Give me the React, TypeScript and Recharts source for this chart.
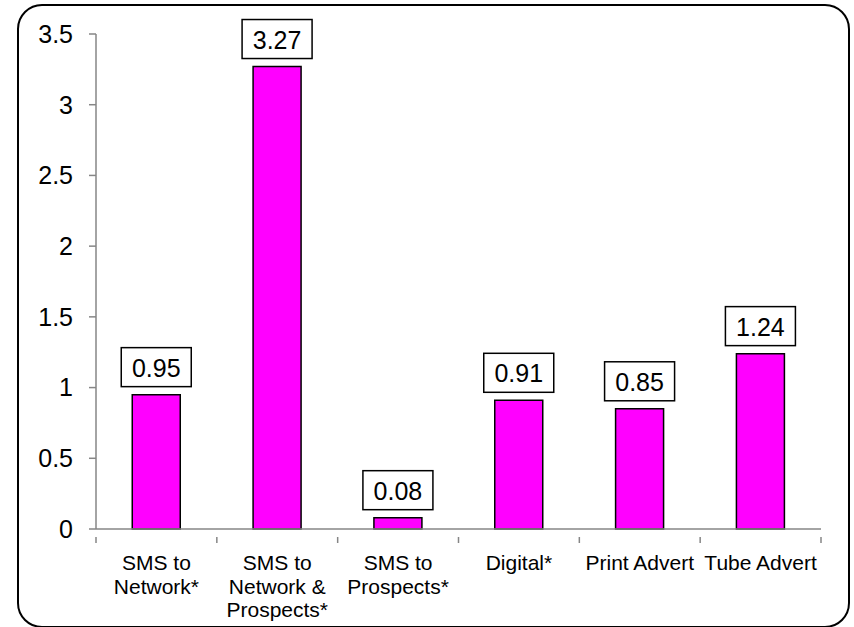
import { Bar, BarChart, LabelList, XAxis, YAxis } from "recharts"

const CATEGORIES = [
  "SMS to\nNetwork*",
  "SMS to\nNetwork &\nProspects*",
  "SMS to\nProspects*",
  "Digital*",
  "Print Advert",
  "Tube Advert",
]
const VALUES = [0.95, 3.27, 0.08, 0.91, 0.85, 1.24]
const Y_TICKS = [0, 0.5, 1, 1.5, 2, 2.5, 3, 3.5]

const FONT = '"Liberation Sans", Arial, sans-serif'
const AXIS_COLOR = "#868686"

const data = CATEGORIES.map((name, i) => ({ name, value: VALUES[i] }))

function CategoryTick(props: any) {
  const { x, y, payload, index } = props
  const half = payload && payload.offset ? payload.offset : 60.4
  const lines = String(payload.value).split("\n")
  return (
    <g>
      <line x1={x - half} y1={y} x2={x - half} y2={y + 6} stroke={AXIS_COLOR} strokeWidth={1.5} />
      {index === CATEGORIES.length - 1 && (
        <line x1={x + half} y1={y} x2={x + half} y2={y + 6} stroke={AXIS_COLOR} strokeWidth={1.5} />
      )}
      <text x={x} y={y} textAnchor="middle" fontFamily={FONT} fontSize={21} fill="#000">
        {lines.map((line, i) => (
          <tspan key={i} x={x} y={y + 33 + i * 23.5}>
            {line}
          </tspan>
        ))}
      </text>
    </g>
  )
}

function ValueBox(props: any) {
  const { x, y, width, value } = props
  const cx = x + width / 2
  const bottom = y - 8
  return (
    <g>
      <rect x={cx - 35} y={bottom - 39} width={70} height={39} fill="#fff" stroke="#000" strokeWidth={1.5} />
      <text x={cx} y={bottom - 10} textAnchor="middle" fontFamily={FONT} fontSize={25} fill="#000">
        {Number(value).toFixed(2)}
      </text>
    </g>
  )
}

export default function App() {
  return (
    <div style={{ position: "absolute", left: 0, top: 0, width: 854, height: 627, background: "#fff" }}>
      <div
        style={{
          position: "absolute",
          left: 17,
          top: 4,
          width: 829,
          height: 620,
          border: "2px solid #000",
          borderRadius: 25,
        }}
      />
      <BarChart
        width={854}
        height={627}
        data={data}
        margin={{ top: 34, right: 33, bottom: 0, left: 0 }}
        barCategoryGap="30%"
        style={{ position: "absolute", left: 0, top: 0 }}
      >
        <XAxis
          dataKey="name"
          height={98}
          interval={0}
          axisLine={{ stroke: AXIS_COLOR, strokeWidth: 1.5 }}
          tickLine={false}
          tick={<CategoryTick />}
        />
        <YAxis
          width={96}
          domain={[0, 3.5]}
          ticks={Y_TICKS}
          interval={0}
          tickSize={7}
          tickMargin={16}
          axisLine={{ stroke: AXIS_COLOR, strokeWidth: 1.5 }}
          tickLine={{ stroke: AXIS_COLOR, strokeWidth: 1.5 }}
          tick={{ fill: "#000", fontSize: 25, fontFamily: FONT }}
        />
        <Bar dataKey="value" fill="#FF00FF" stroke="#000" strokeWidth={1.5} isAnimationActive={false}>
          <LabelList dataKey="value" content={<ValueBox />} />
        </Bar>
      </BarChart>
    </div>
  )
}
